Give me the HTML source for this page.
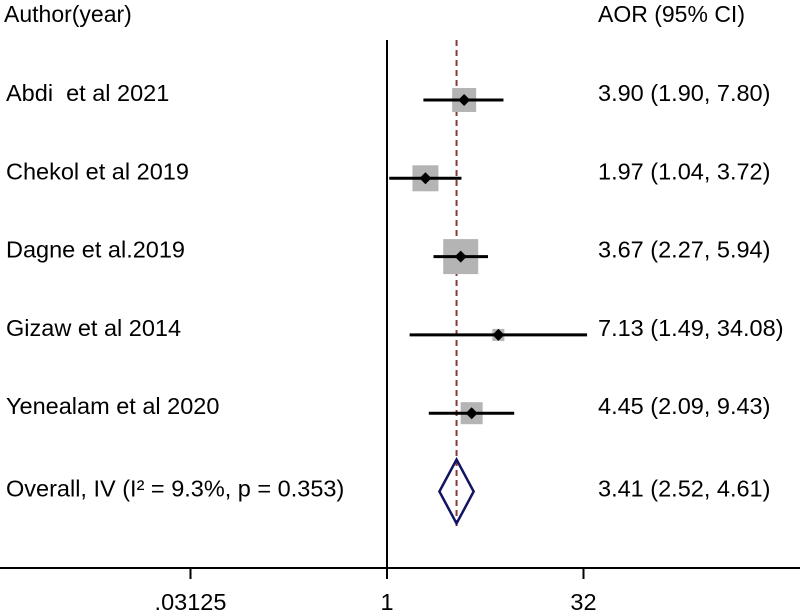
<!DOCTYPE html>
<html><head><meta charset="utf-8"><style>
html,body{margin:0;padding:0;background:#fff;}
svg{display:block;font-family:"Liberation Sans",Arial,sans-serif;}
text{white-space:pre;}
</style></head><body>
<svg id="chart" width="800" height="614"></svg>
<script>
const studies=["Abdi  et al 2021","Chekol et al 2019","Dagne et al.2019","Gizaw et al 2014","Yenealam et al 2020"];
const est=[3.90,1.97,3.67,7.13,4.45];
const lo=[1.90,1.04,2.27,1.49,2.09];
const hi=[7.80,3.72,5.94,34.08,9.43];
const weights=[24,26,35,12,22];
const overall=[3.41,2.52,4.61];
const overallLabel="Overall, IV (I² = 9.3%, p = 0.353)";
const tickVals=[0.03125,1,32];
const tickLabels=[".03125","1","32"];

const NS="http://www.w3.org/2000/svg";
const svg=document.getElementById('chart');
const x=v=>387+39.3*Math.log2(v);
const rowY=i=>100+78.3*i;
function mk(tag,attrs,parent){const e=document.createElementNS(NS,tag);for(const k in attrs)e.setAttribute(k,attrs[k]);(parent||svg).appendChild(e);return e;}
function txt(s,xx,yy,anchor,fs){const t=mk('text',{x:xx,y:yy,'font-size':fs||23.5,fill:'#000','text-anchor':anchor||'start'});t.textContent=s;return t;}
const fmt=v=>v.toFixed(2);

let h1=txt("Author(year)",4,22,'start',23);


let h2=txt("AOR (95% CI)",598,22,'start',23);



let nl=mk('line',{x1:x(1),y1:40,x2:x(1),y2:568,stroke:'#000','stroke-width':2});


let ol=mk('line',{x1:x(overall[0]),y1:40,x2:x(overall[0]),y2:530,stroke:'#8b3a3a','stroke-width':2,'stroke-dasharray':'6,4'});



studies.forEach((s,i)=>{
  const y=rowY(i);
  const g=mk('g',{});
  
  
  const w=weights[i];
  const b=mk('rect',{x:x(est[i])-w/2,y:y-w/2,width:w,height:w,fill:'#b4b4b4'},g);
  
  
  const l=mk('line',{x1:x(lo[i]),y1:y,x2:x(hi[i]),y2:y,stroke:'#000','stroke-width':3},g);
  
  
  const cx=x(est[i]);
  const d=mk('polygon',{points:`${cx-6},${y} ${cx},${y-6} ${cx+6},${y} ${cx},${y+6}`,fill:'#000'},g);
  
  
  const t1=txt(s,6,y+1);
  
  
  const t2=txt(`${fmt(est[i])} (${fmt(lo[i])}, ${fmt(hi[i])})`,598,y+1);
  
  
});

const oy=rowY(5);
const ox=x(overall[0]),oL=x(overall[1]),oR=x(overall[2]);
const dm=mk('polygon',{points:`${oL},${oy} ${ox},${oy-32} ${oR},${oy} ${ox},${oy+32}`,fill:'none',stroke:'#141464','stroke-width':2.5});


const ot=txt(overallLabel,6,oy+5);


const ov=txt(`${fmt(overall[0])} (${fmt(overall[1])}, ${fmt(overall[2])})`,598,oy+5);



const ax=mk('line',{x1:0,y1:568,x2:800,y2:568,stroke:'#000','stroke-width':2});


tickVals.forEach((v,i)=>{
  const tk=mk('line',{x1:x(v),y1:568,x2:x(v),y2:579,stroke:'#000','stroke-width':2});
  
  
  const tl=txt(tickLabels[i],x(v),610,'middle');
  
  
});
</script>
</body></html>
